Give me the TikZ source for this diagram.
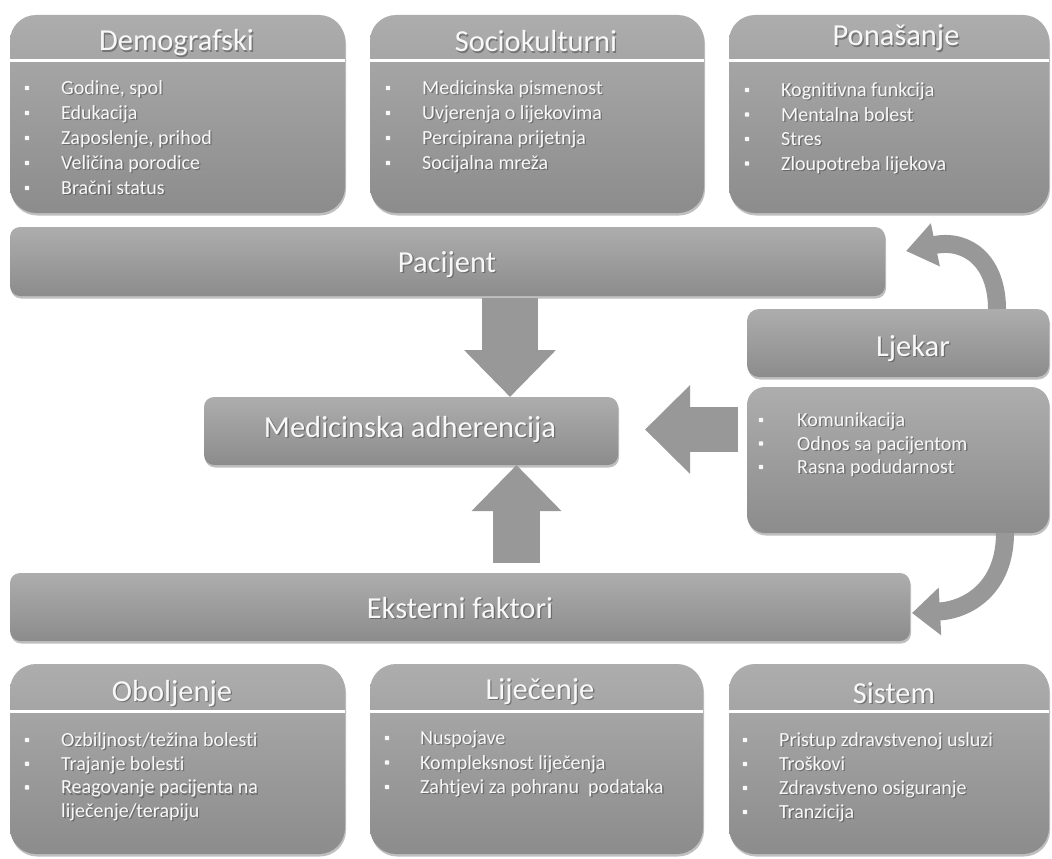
\documentclass[tikz,border=0pt]{standalone}
\usepackage{fontspec}
\setmainfont{Carlito}[Ligatures=NoCommon]
\usetikzlibrary{calc,shadows,arrows.meta}
\definecolor{boxtop}{RGB}{173,173,173}
\definecolor{boxbot}{RGB}{140,140,140}
\definecolor{arrgray}{RGB}{152,152,152}
\definecolor{txtw}{RGB}{248,248,248}
\definecolor{txtsh}{RGB}{55,55,55}
\tikzset{
  boxbase/.style={draw=none, top color=boxtop, bottom color=boxbot, inner sep=0pt, outer sep=0pt,
    drop shadow={shadow xshift=1pt, shadow yshift=-2.5pt, opacity=0.25, fill=black}},
  catbox/.style={boxbase, rounded corners=26pt},
  barbox/.style={boxbase, rounded corners=10pt},
  sepline/.style={draw=white, line width=3pt},
  titletxt/.style={font=\fontsize{30.5}{36}\selectfont, text=txtw, inner sep=0pt},
  itemtxt/.style={font=\fontsize{20}{24}\selectfont, text=txtw, inner sep=0pt},
  shtxt/.style={text=txtsh, opacity=0.45},
  bulletdot/.style={fill=txtw, rounded corners=0.8pt},
  blockarrow/.style={draw=arrgray, line cap=butt},
}
\newcommand{\stext}[6]{%
  \node[#1,shtxt,anchor=#5] (#2s) at (#3+1.3,#4+1.3) {#6};
  \node[#1,anchor=#5] (#2) at (#3,#4) {#6};}
\newcommand{\itemlist}[6]{%
  \foreach \itm [count=\k] in {#6} {
    \pgfmathsetmacro\yy{#4+(\k-1)*#5}
    \pgfmathsetmacro\yb{\yy+6.5}
    \fill[bulletdot] (#2-2.2,\yy-2.2) rectangle (#2+2.2,\yy+2.2);
    \stext{itemtxt}{#1\k}{#3}{\yb}{base west}{\itm}
  }}
\begin{document}
\begin{tikzpicture}[x=1pt,y=-1pt]
\fill[white] (0,0) rectangle (1052,859);
\useasboundingbox (0,0) rectangle (1052,859);

% category boxes (top)
\node[catbox, minimum width=335pt, minimum height=198pt] (demo) at (177.5,114) {};
\node[catbox, minimum width=334pt, minimum height=198pt] (socio) at (537,114) {};
\node[catbox, minimum width=320pt, minimum height=198pt] (pona) at (889,114) {};
% category boxes (bottom)
\node[catbox, minimum width=335pt, minimum height=190pt] (obol) at (177.5,759) {};
\node[catbox, minimum width=333pt, minimum height=190pt] (lije) at (536.5,759) {};
\node[catbox, minimum width=320pt, minimum height=190pt] (sist) at (889,759) {};

\foreach \b in {demo,socio,pona} {\draw[sepline] (\b.west |- 0,61) -- (\b.east |- 0,61);}
\foreach \b in {obol,lije,sist} {\draw[sepline] (\b.west |- 0,711) -- (\b.east |- 0,711);}

% bars
\node[barbox, minimum width=875pt, minimum height=69pt] (pac) at (447.5,261.5) {};
\node[barbox, minimum width=414pt, minimum height=68pt] (ma) at (411,431) {};
\node[barbox, rounded corners=12pt, minimum width=302pt, minimum height=68pt] (ljh) at (898,343) {};
\node[barbox, rounded corners=18pt, minimum width=302pt, minimum height=146pt] (ljl) at (898,460) {};
\node[barbox, minimum width=900pt, minimum height=68pt] (eks) at (460,607) {};

% straight block arrows
\coordinate (pacS) at (510,298);
\draw[blockarrow, line width=56pt, -{Triangle[length=47pt,width=89pt]}] (pacS) -- (pacS |- ma.north);
\coordinate (eksN) at (516.5,563);
\draw[blockarrow, line width=47pt, -{Triangle[length=46pt,width=87pt]}] (eksN) -- (eksN |- ma.south);
\coordinate (ljW) at (738,429.5);
\coordinate (maE) at (645,429.5);
\draw[blockarrow, line width=45pt, -{Triangle[length=45pt,width=86pt]}] (ljW) -- (maE);

% curved arrows
\coordinate (ljTop) at (997,309);
\coordinate (pacE) at (906,251);
\draw[blockarrow, line width=18pt, -{Triangle[length=30pt,width=42pt]}] (ljTop) .. controls (997,262) and (968,238) .. (pacE);
\coordinate (ljBot) at (1005,533);
\coordinate (eksE) at (912,613);
\draw[blockarrow, line width=18pt, -{Triangle[length=28pt,width=46pt]}] (ljBot) .. controls (1005,588) and (968,610) .. (eksE);

% titles
\stext{titletxt}{tdemo}{176.5}{51}{base}{Demografski}
\stext{titletxt}{tsocio}{536}{52}{base}{Sociokulturni}
\stext{titletxt}{tpona}{896}{46}{base}{Ponašanje}
\stext{titletxt}{tobol}{172}{701}{base}{Oboljenje}
\stext{titletxt}{tlije}{540}{699}{base}{Liječenje}
\stext{titletxt}{tsist}{894}{703}{base}{Sistem}
\stext{titletxt}{tpac}{447}{272}{base}{Pacijent}
\stext{titletxt}{tma}{410}{437}{base}{Medicinska adherencija}
\stext{titletxt}{tlj}{913}{356}{base}{Ljekar}
\stext{titletxt}{teks}{460}{618}{base}{Eksterni faktori}

% item lists
\itemlist{idemo}{27}{61}{88}{25}{{Godine, spol},Edukacija,{Zaposlenje, prihod},Veličina porodice,Bračni status}
\itemlist{isocio}{388}{422}{88}{25}{Medicinska pismenost,Uvjerenja o lijekovima,Percipirana prijetnja,Socijalna mreža}
\itemlist{ipona}{747}{781}{90}{24.5}{Kognitivna funkcija,Mentalna bolest,Stres,Zloupotreba lijekova}
\itemlist{ilj}{761}{797}{420}{23.5}{Komunikacija,Odnos sa pacijentom,Rasna podudarnost}
\itemlist{iobol}{27}{61}{740}{23.7}{Ozbiljnost/težina bolesti,Trajanje bolesti,Reagovanje pacijenta na}
\stext{itemtxt}{iobolx}{61}{817.5}{base west}{liječenje/terapiju}
\itemlist{ilije}{387}{420}{738}{24.5}{Nuspojave,Kompleksnost liječenja,Zahtjevi za pohranu\ \ podataka}
\itemlist{isist}{745}{779}{740}{24}{Pristup zdravstvenoj usluzi,Troškovi,Zdravstveno osiguranje,Tranzicija}
\end{tikzpicture}
\end{document}
